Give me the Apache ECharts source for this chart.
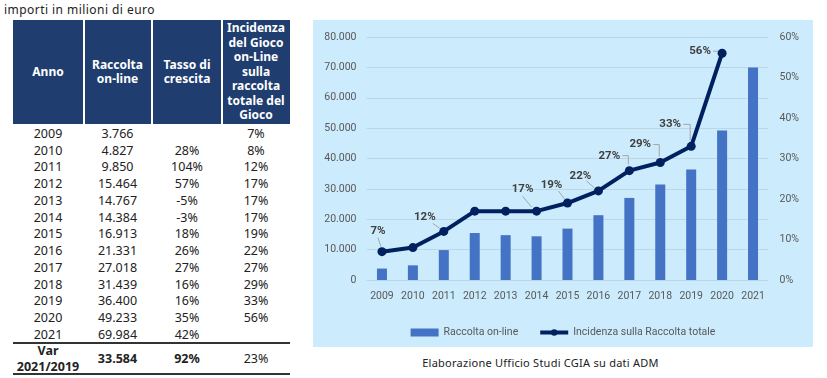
<!DOCTYPE html>
<html><head><meta charset="utf-8">
<script src="https://cdn.jsdelivr.net/npm/echarts@6/dist/echarts.min.js"></script>
<style>
body{margin:0;width:827px;height:378px;background:#fff;position:relative;overflow:hidden;font-family:'Noto Sans',sans-serif;}
#note{position:absolute;left:4px;top:2px;font-size:12px;color:#222;line-height:16px;letter-spacing:0.45px;}
#hdr{position:absolute;left:13px;top:20px;width:277px;height:104px;background:#1F3D6E;}
.hc{position:absolute;top:0;height:104px;display:flex;align-items:center;justify-content:center;text-align:center;color:#fff;font-weight:bold;font-size:12px;line-height:14.5px;}
.sep{position:absolute;top:0;width:2px;height:104px;background:#fff;}
.cell{position:absolute;text-align:center;font-size:12.5px;color:#222;}
.hl{position:absolute;left:13px;width:277px;height:1.5px;background:#333;}
#chart{position:absolute;left:313px;top:20px;width:500px;height:327px;background:#CCEBFC;}
#cap{position:absolute;left:313px;width:455px;top:355px;text-align:center;font-size:11px;color:#222;letter-spacing:0.25px;}
</style></head>
<body>
<div id="note">importi in milioni di euro</div>
<div id="hdr"></div>
<div id="body"></div>
<div id="chart"></div>
<div id="cap">Elaborazione Ufficio Studi CGIA su dati ADM</div>
<script>
const headers = ['Anno','Raccolta<br>on-line','Tasso di<br>crescita','Incidenza<br>del Gioco<br>on-Line<br>sulla<br>raccolta<br>totale del<br>Gioco'];
const years = ['2009','2010','2011','2012','2013','2014','2015','2016','2017','2018','2019','2020','2021'];
const raccolta = [3766,4827,9850,15464,14767,14384,16913,21331,27018,31439,36400,49233,69984];
const tasso = [null,28,104,57,-5,-3,18,26,27,16,16,35,42];
const incidenza = [7,8,12,17,17,17,19,22,27,29,33,56,null];
const labelShown = [true,false,true,false,false,true,true,true,true,true,true,true,false];
const varLabel = 'Var<br>2021/2019';
const varRaccolta = 33584, varTasso = 92, varIncidenza = 23;
const leftTicks = {min:0,max:80000,interval:10000};
const rightTicks = {min:0,max:60,interval:10};

function fmt(n){ return String(n).replace(/\B(?=(\d{3})+(?!\d))/g,'.'); }

// table
const colL=[0,70,139,209], colW=[70,69,70,68];
const hdr=document.getElementById('hdr');
headers.forEach((h,i)=>{const d=document.createElement('div');d.className='hc';d.style.left=colL[i]+'px';d.style.width=colW[i]+'px';d.innerHTML=h;hdr.appendChild(d);});
[70,138,208].forEach(x=>{const s=document.createElement('div');s.className='sep';s.style.left=x+'px';hdr.appendChild(s);});
const body=document.getElementById('body');
function cell(txt,col,top,h,lh,bold){const d=document.createElement('div');d.className='cell';d.style.left=(13+colL[col])+'px';d.style.width=colW[col]+'px';d.style.top=top+'px';d.style.height=h+'px';d.style.lineHeight=lh+'px';if(bold)d.style.fontWeight='bold';d.innerHTML=txt;body.appendChild(d);}
const rowH=16.75, top0=125.8;
years.forEach((y,i)=>{const t=top0+i*rowH;
 cell(y,0,t,rowH,rowH);cell(fmt(raccolta[i]),1,t,rowH,rowH);
 cell(tasso[i]==null?'':tasso[i]+'%',2,t,rowH,rowH);cell(incidenza[i]==null?'':incidenza[i]+'%',3,t,rowH,rowH);});
const l1=document.createElement('div');l1.className='hl';l1.style.top='342px';body.appendChild(l1);
cell(varLabel,0,342.5,31,16,true);cell(fmt(varRaccolta),1,342.5,31,31,true);cell(varTasso+'%',2,342.5,31,31,true);cell(varIncidenza+'%',3,342.5,31,31,false);
const l2=document.createElement('div');l2.className='hl';l2.style.top='373px';body.appendChild(l2);

// chart
const labelOffsets=[[-4,-21],[0,0],[-19,-14],[0,0],[0,0],[-14,-22],[-16,-18],[-18,-15],[-20,-15],[-20,-18],[-21,-22],[-22,-2],[0,0]];
// leader line shapes, as offsets relative to each data point
const leaderPaths=[
 [[-4,-14],[-1,-5]], null, [[-11,-8],[-4,-3]], null, null,
 [[-14,-15],[-5,-4]], [[-9,-12],[-3,-4]], [[-12,-10],[-4,-3]],
 [[-7,-15],[-1,-15],[-1,-6]], [[-7,-18],[-1,-18],[-1,-6]], [[-8,-22],[-1,-22],[-1,-6]],
 [[-9,-2],[-4,-2]], null];
const ff='Roboto';
const chart=echarts.init(document.getElementById('chart'));
chart.setOption({
 animation:false,
 textStyle:{fontFamily:ff},
 grid:{left:53.5,right:44.5,top:17,bottom:67},
 legend:{left:'center',top:302,itemWidth:28,itemHeight:8,itemGap:20,textStyle:{color:'#595959',fontSize:10.5,fontFamily:ff},
   lineStyle:{width:4},
   data:[{name:'Raccolta on-line',icon:'rect'},{name:'Incidenza sulla Raccolta totale'}]},
 xAxis:{type:'category',data:years,axisLine:{show:false},axisTick:{show:false},axisLabel:{color:'#595959',fontSize:10.5,margin:11,fontFamily:ff}},
 yAxis:[
  {type:'value',min:leftTicks.min,max:leftTicks.max,interval:leftTicks.interval,axisLine:{show:false},axisTick:{show:false},
   splitLine:{lineStyle:{color:'#BCD6E6',width:1}},axisLabel:{color:'#595959',fontSize:10.5,margin:10,fontFamily:ff,formatter:v=>fmt(v)}},
  {type:'value',min:rightTicks.min,max:rightTicks.max,interval:rightTicks.interval,axisLine:{show:false},axisTick:{show:false},
   splitLine:{show:false},axisLabel:{color:'#595959',fontSize:10.5,margin:11,fontFamily:ff,formatter:'{value}%'}}
 ],
 series:[
  {name:'Raccolta on-line',type:'bar',yAxisIndex:0,data:raccolta,barWidth:10,itemStyle:{color:'#4472C4'}},
  {name:'leader',type:'custom',yAxisIndex:1,silent:true,z:1,
   data:incidenza.map((v,i)=>[i,v]),
   renderItem:(params,api)=>{
     const i=params.dataIndex, path=leaderPaths[i];
     if(!path||incidenza[i]==null) return null;
     const p=api.coord([i,incidenza[i]]);
     return {type:'polyline',shape:{points:path.map(o=>[p[0]+o[0],p[1]+o[1]])},style:{stroke:'#A6A6A6',lineWidth:1,fill:null}};
   }},
  {name:'Incidenza sulla Raccolta totale',type:'line',yAxisIndex:1,
   data:incidenza.map((v,i)=>({value:v,label:{show:labelShown[i]}})),
   lineStyle:{color:'#002060',width:4},itemStyle:{color:'#002060'},symbol:'circle',symbolSize:9,
   label:{position:'inside',formatter:'{c}%',fontWeight:'bold',fontSize:11.5,color:'#404040',fontFamily:ff},
   labelLayout:p=>({dx:labelOffsets[p.dataIndex][0],dy:labelOffsets[p.dataIndex][1]}),
   z:3}
 ]
});
</script>
</body></html>
